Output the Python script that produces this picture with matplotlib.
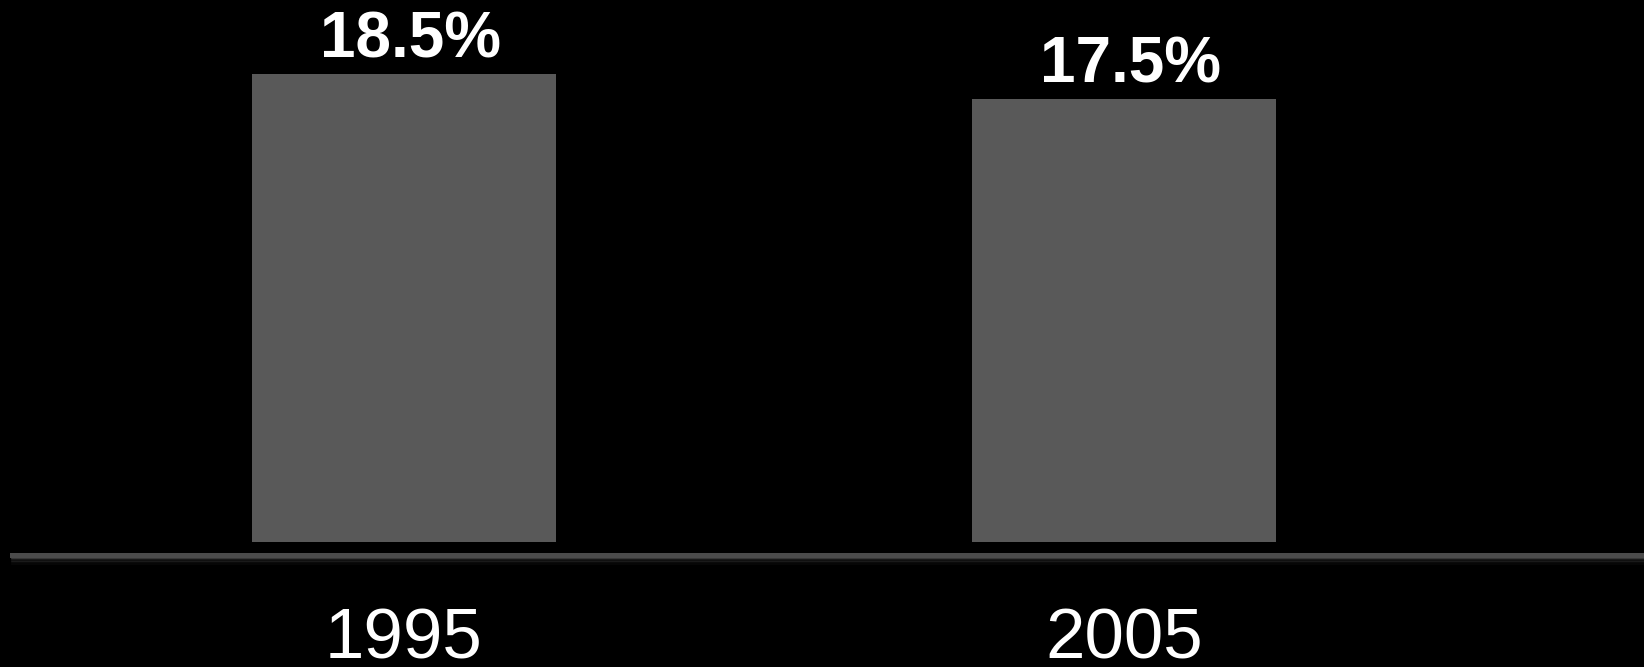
import matplotlib
matplotlib.use("Agg")

import matplotlib.pyplot as plt

years = ["1995", "2005"]
shares = [18.5, 17.5]
value_labels = ["18.5%", "17.5%"]

plt.rcParams["font.family"] = ["Liberation Sans", "DejaVu Sans"]

fig = plt.figure(figsize=(16.44, 6.67), dpi=100, facecolor="black")
ax = fig.add_axes([0, 0, 1, 1])
ax.set_facecolor("black")

x = list(range(len(years)))
bars = ax.bar(x, shares, width=0.422, color="#595959", zorder=2)

for xi, v, lab in zip(x, shares, value_labels):
    ax.annotate(lab, (xi, v), xytext=(4.5, 12), textcoords="offset points",
                ha="center", va="baseline", fontsize=46, fontweight="bold",
                color="white")

# year labels sit low and run off the bottom edge, as in the original
for xi, yr in zip(x, years):
    ax.annotate(yr, (xi, 0), xytext=(0, -84), textcoords="offset points",
                ha="center", va="baseline", fontsize=51, color="white")

# baseline rule with a soft shadow underneath
x0 = 12 / 1644
for k, a in enumerate([0.16, 0.12, 0.08, 0.05, 0.03]):
    ax.axhline(-0.62 - k * 0.06, xmin=x0, xmax=1, color="white", alpha=a,
               linewidth=1.2, zorder=1)
ax.axhline(-0.494, xmin=x0, xmax=1, color="#4b4b4b", linewidth=3.6, zorder=3)

ax.set_xlim(-0.561, 1.722)
ax.set_ylim(-4.94, 21.42)
ax.axis("off")

fig.savefig("out.png", dpi=100, facecolor="black")
